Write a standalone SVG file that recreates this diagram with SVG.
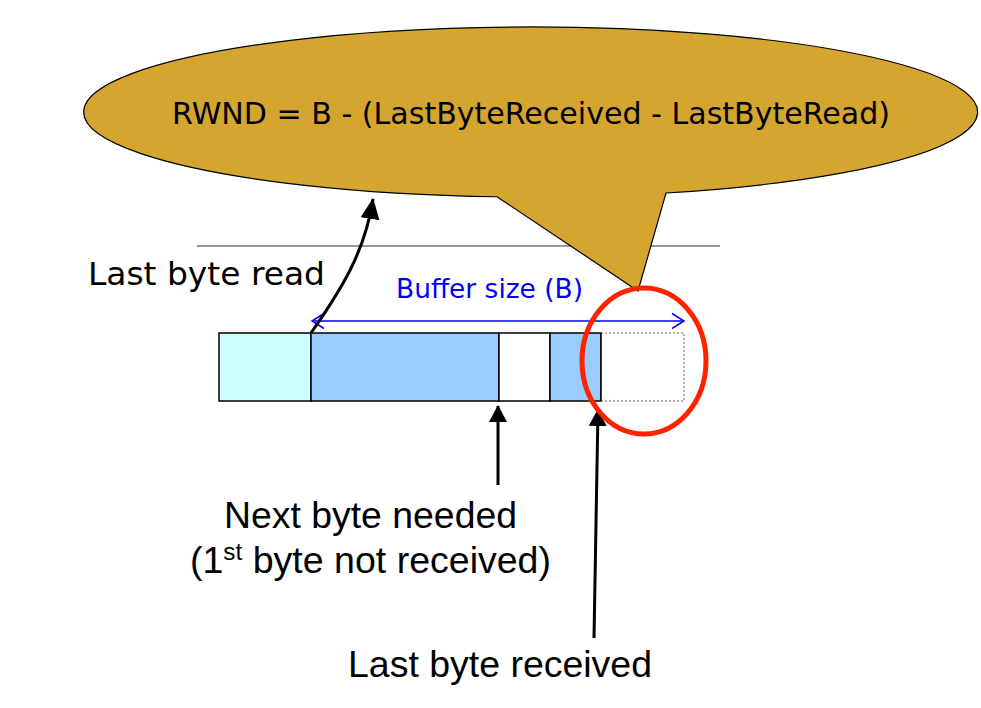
<svg xmlns="http://www.w3.org/2000/svg" width="981" height="708" viewBox="0 0 981 708">
<style>
.lbl{font-family:"Liberation Sans",Arial,sans-serif;fill:#000;}
.vd{font-family:"DejaVu Sans",Verdana,sans-serif;}
.seg{stroke:#000;stroke-width:1.5;}
.conn{fill:none;stroke:#000;stroke-width:3;}
</style>
<defs>
<marker id="ah" markerUnits="userSpaceOnUse" markerWidth="22" markerHeight="22" viewBox="0 0 22 22" refX="20" refY="11" orient="auto">
<path d="M0,1.5 L21,11 L0,20.5 Z" fill="#000"/>
</marker>
<marker id="ah2" markerUnits="userSpaceOnUse" markerWidth="18" markerHeight="20" viewBox="0 0 18 20" refX="16" refY="10" orient="auto">
<path d="M0,1 L17,10 L0,19 Z" fill="#000"/>
</marker>
</defs>
<rect width="981" height="708" fill="#fff"/>
<line x1="197" y1="246" x2="720" y2="246" stroke="#333" stroke-width="1.2"/>
<g id="callout">
<path d="M497,196.75 A447,85 0 1 1 666,193 L638,291 Z" fill="#D4A62F" stroke="#000" stroke-width="1.2"/>
<text class="vd" x="531" y="124" font-size="30" text-anchor="middle" textLength="718" lengthAdjust="spacingAndGlyphs" fill="#000">RWND = B - (LastByteReceived - LastByteRead)</text>
</g>
<g id="buffer">
<rect class="seg" x="219" y="333" width="92" height="68" fill="#CCFFFF"/>
<rect class="seg" x="311" y="333" width="188" height="68" fill="#99CCFF"/>
<rect class="seg" x="499" y="333" width="51" height="68" fill="#FFFFFF"/>
<rect class="seg" x="550" y="333" width="51" height="68" fill="#99CCFF"/>
<rect x="601" y="333" width="83" height="68" fill="#FFFFFF" stroke="#666" stroke-width="1" stroke-dasharray="2,2"/>
<line x1="601" y1="333" x2="601" y2="401" stroke="#000" stroke-width="1.5"/>
</g>
<g id="buffer-size">
<line x1="312" y1="321" x2="684" y2="321" stroke="#0000FF" stroke-width="1.5"/>
<path d="M324,313.5 L312,321 L324,328.5 M672,313.5 L684,321 L672,328.5" fill="none" stroke="#0000FF" stroke-width="1.5"/>
<text class="vd" x="396" y="298" font-size="26" textLength="187" lengthAdjust="spacingAndGlyphs" fill="#0000FF">Buffer size (B)</text>
</g>
<g id="label-last-read">
<text class="vd" x="88" y="285" font-size="32" textLength="237" lengthAdjust="spacingAndGlyphs" fill="#000">Last byte read</text>
</g>
<g id="label-next">
<text class="lbl" x="224" y="528" font-size="37" textLength="293" lengthAdjust="spacingAndGlyphs">Next byte needed</text>
<text class="lbl" x="190" y="573" font-size="37" textLength="361" lengthAdjust="spacingAndGlyphs">(1<tspan font-size="24" dy="-13">st</tspan><tspan dy="13"> byte not received)</tspan></text>
</g>
<g id="label-last-received">
<text class="lbl" x="348" y="677" font-size="37" textLength="304" lengthAdjust="spacingAndGlyphs">Last byte received</text>
</g>
<g id="connectors">
<path class="conn" d="M311,333 C341,290 365,252 373,199" stroke-width="3.2" marker-end="url(#ah)"/>
<line class="conn" x1="498" y1="485" x2="498" y2="406" stroke-width="2.5" marker-end="url(#ah2)"/>
<line class="conn" x1="594" y1="638" x2="598" y2="410" stroke-width="2.5" marker-end="url(#ah2)"/>
</g>
<g id="highlight">
<ellipse cx="644" cy="361" rx="62" ry="73" fill="none" stroke="#FF2200" stroke-width="5"/>
</g>
</svg>
